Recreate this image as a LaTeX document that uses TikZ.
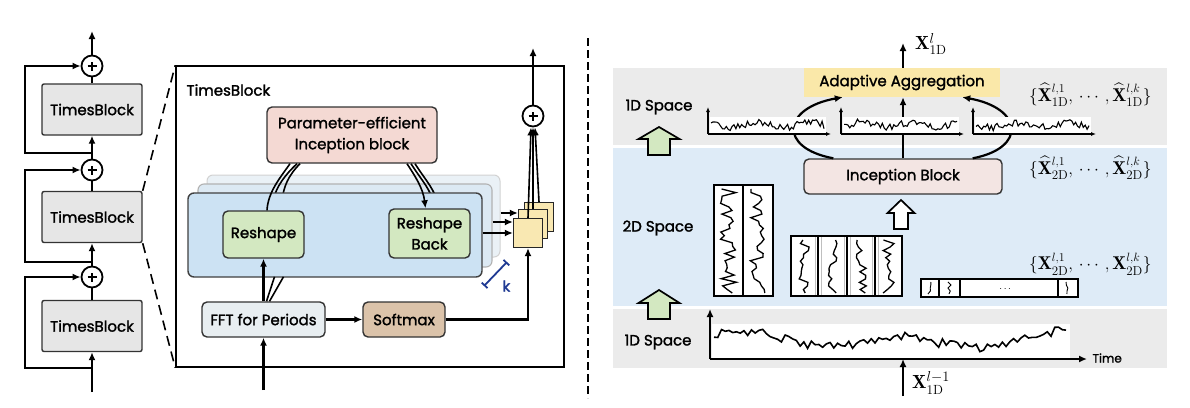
\documentclass[tikz,border=0pt]{standalone}
\usepackage{fontspec}
\usepackage{amsmath}
\usetikzlibrary{arrows.meta,calc}
\newfontfamily\fut[AutoFakeBold=1.6]{Poppins}
\definecolor{tbgray}{HTML}{E6E6E6}
\definecolor{pinkc}{HTML}{F4D9D3}
\definecolor{greenc}{HTML}{D3E8C1}
\definecolor{l1c}{HTML}{CCE2F3}
\definecolor{l2c}{HTML}{DCE9F3}
\definecolor{l3c}{HTML}{EAF1F6}
\definecolor{fftc}{HTML}{E8EEF1}
\definecolor{softc}{HTML}{DBC3AA}
\definecolor{sqc}{HTML}{F9E8B2}
\definecolor{kblue}{HTML}{1F3A93}
\definecolor{bandgray}{HTML}{EBEBEB}
\definecolor{bandblue}{HTML}{DEEBF7}
\definecolor{incc}{HTML}{F3E5E3}
\definecolor{aac}{HTML}{FAE8A9}
\begin{document}
\begin{tikzpicture}[x=1pt,y=-1pt,
  >={Latex[length=8pt,width=7pt]},
  lbl/.style={font=\fut\bfseries\fontsize{15}{21}\selectfont},
  box/.style={draw=black!80, line width=1.4pt, rounded corners=5pt, inner sep=0pt, align=center, lbl},
  tbbox/.style={box, fill=tbgray, rounded corners=2pt, minimum width=100pt, minimum height=51pt},
  plusn/.style={circle, draw, line width=1.8pt, minimum size=21pt, inner sep=0pt, fill=white,
    path picture={\draw[line width=2pt] ([xshift=-4.5pt]path picture bounding box.center) -- ([xshift=4.5pt]path picture bounding box.center);
                  \draw[line width=2pt] ([yshift=-4.5pt]path picture bounding box.center) -- ([yshift=4.5pt]path picture bounding box.center);}},
  conn/.style={line width=2.2pt},
  thinc/.style={line width=1.6pt},
  sqn/.style={draw=black!85, fill=sqc, line width=1.2pt, minimum size=29pt, inner sep=0pt},
  mathl/.style={font=\fontsize{18.5}{20}\selectfont, inner sep=0pt},
  mathb/.style={font=\fontsize{19}{21}\selectfont, inner sep=0pt},
  axis/.style={line width=1.2pt, >={Latex[length=5pt,width=4pt]}},
  ser/.style={line width=1.1pt},
  sq2d/.style={line width=1.3pt}
]
\useasboundingbox (0,0) rectangle (1190,407);
\pgfmathsetseed{4242}

% ================= LEFT COLUMN =================
\node[tbbox] (tb1) at (92,109.5) {TimesBlock};
\node[tbbox] (tb2) at (92,217) {TimesBlock};
\node[tbbox] (tb3) at (92,326) {TimesBlock};
\node[plusn] (p1) at (92,66) {};
\node[plusn] (p2) at (92,170) {};
\node[plusn] (p3) at (92,277) {};
\coordinate (in0) at (92,392);
\coordinate (out0) at (92,31);
\coordinate (s3) at (92,368);
\coordinate (s2) at (92,262);
\coordinate (s1) at (92,153);
\draw[conn,->] (in0) -- (tb3.south);
\draw[conn] (tb3.north) -- (p3.south);
\draw[conn,->] (p3.north) -- (tb2.south);
\draw[conn] (tb2.north) -- (p2.south);
\draw[conn,->] (p2.north) -- (tb1.south);
\draw[conn] (tb1.north) -- (p1.south);
\draw[conn,->] (p1.north) -- (out0);
\draw[conn,->] (s3) -- ++(-67,0) |- (p3.west);
\draw[conn,->] (s2) -- ++(-67,0) |- (p2.west);
\draw[conn,->] (s1) -- ++(-67,0) |- (p1.west);

% ================= TIMESBLOCK DETAIL =================
\node[draw, line width=1.5pt, fill=white, minimum width=388pt, minimum height=301pt, inner sep=0pt] (bb) at (370,216.5) {};
\draw[line width=1.6pt, dash pattern=on 10pt off 6pt] (tb2.north east) -- (bb.north west);
\draw[line width=1.6pt, dash pattern=on 10pt off 6pt] (tb2.south east) -- (bb.south west);
\node[lbl, anchor=west] (tbl) at (183,90) {TimesBlock};

\node[box, fill=pinkc, minimum width=170pt, minimum height=56pt] (pe) at (352,135) {Parameter-efficient\\Inception block};

% back layers
\node[draw=gray!35, fill=l3c, line width=1pt, rounded corners=6pt, minimum width=293pt, minimum height=82pt, inner sep=0pt] (L3) at (353.5,216) {};
\node[draw=gray!60, fill=l2c, line width=1.1pt, rounded corners=6pt, minimum width=294pt, minimum height=83pt, inner sep=0pt] (L2) at (345,225.5) {};
\draw[thinc] ([xshift=59pt]pe.south) .. controls (420,178) and (428,186) .. (433,200);
\draw[thinc] ([xshift=-55pt]pe.south) .. controls (284,176) and (277,186) .. (273,200);
\draw[thinc] ([xshift=63pt]pe.south) .. controls (424,178) and (432,186) .. (437,200);
\draw[thinc] ([xshift=-52pt]pe.south) .. controls (288,176) and (284,186) .. (282,200);
\node[draw=black!75, fill=l1c, line width=1.4pt, rounded corners=6pt, minimum width=294pt, minimum height=84pt, inner sep=0pt] (L1) at (335,235) {};

\node[box, fill=greenc, minimum width=81pt, minimum height=47pt] (rs) at (263.5,234.5) {Reshape};
\node[box, fill=greenc, minimum width=81pt, minimum height=49pt] (rb) at (429.5,233.5) {Reshape\\Back};
\draw[thinc] ([xshift=-62pt]pe.south) .. controls (280,178) and (268,192) .. ([xshift=3.5pt]rs.north);
\draw[thinc,->] ([xshift=55pt]pe.south) .. controls (415,176) and (423,188) .. ([xshift=-4pt]rb.north);

\node[box, fill=fftc, minimum width=123pt, minimum height=35pt] (fft) at (263.5,319.5) {FFT for Periods};
\node[box, fill=softc, minimum width=82pt, minimum height=35pt] (sm) at (404,319.5) {Softmax};
\coordinate (in1) at (263.5,390);
\draw[conn,->] (in1) -- (fft.south);
\draw[conn,->] (fft.north) -- (rs.south);
\draw[thinc] ([xshift=3pt]fft.north) -- ++(8,-24.5);
\draw[thinc] ([xshift=6pt]fft.north) -- ++(14,-24.5);
\draw[conn,->] (fft) -- (sm);

% result squares
\node[sqn] (sq3) at (539,217) {};
\node[sqn] (sq2) at (533,224) {};
\node[sqn] (sq1) at (528,233) {};
\coordinate (a3) at ([yshift=3pt]L3.east);
\coordinate (a2) at ([yshift=3.5pt]L2.east);
\coordinate (a1) at ([yshift=2pt]L1.east);
\draw[thinc,->] (a3) -- (a3 -| sq2.west);
\draw[thinc,->] (a2) -- (a2 -| sq1.west);
\draw[thinc,->] (a1) -- (a1 -| sq1.west);
\draw[conn,->] (sm.east) -| (sq1.south);

\node[plusn] (pc) at (533,116) {};
\draw[thinc,->] (sq1.north) -- ([xshift=-2pt]pc.south);
\draw[thinc,->] (sq2.north) -- (pc.south);
\draw[thinc,->] (sq3.north) -- ([xshift=2pt]pc.south);
\coordinate (out1) at (533,48);
\draw[conn,->] (pc.north) -- (out1);

% k marker
\coordinate (k1) at (484,286);
\coordinate (k2) at (507,262);
\draw[kblue, line width=1.8pt, {Bar[width=8pt]}-{Bar[width=8pt]}] (k1) -- (k2);
\node[lbl, text=kblue, anchor=west] (kl) at (499,286) {k};

% separator
\draw[line width=1.8pt, dash pattern=on 8pt off 4pt] (588,38) -- (588,398);

% ================= RIGHT SIDE =================
\fill[bandgray] (613,68) rectangle (1167,145);
\fill[bandblue] (613,148) rectangle (1167,306);
\fill[bandgray] (613,309) rectangle (1167,368);

\node[lbl] (s1d) at (659,107) {1D Space};
\node[lbl] (s2d) at (658,228) {2D Space};
\node[lbl] (s1b) at (658,342) {1D Space};

% green block arrows
\draw[fill=greenc, line width=1.7pt] (659,127) -- (679.5,139) -- (670,139) -- (670,155) -- (648,155) -- (648,139) -- (638.5,139) -- cycle;
\draw[fill=greenc, line width=1.7pt] (659,290) -- (679.5,303) -- (670,303) -- (670,319) -- (648,319) -- (648,303) -- (638.5,303) -- cycle;

% Inception / aggregation
\node[box, fill=incc, minimum width=198pt, minimum height=35pt] (ib) at (903,176.5) {Inception Block};
\node[lbl, fill=aac, minimum width=196pt, minimum height=29pt, inner sep=0pt] (aa) at (902,82.5) {Adaptive Aggregation};
\draw[conn,->] ([xshift=30pt]ib.north west) .. controls (778,148) and (782,108) .. ([xshift=39pt]aa.south west);
\draw[conn,->] ([xshift=-30pt]ib.north east) .. controls (1027,148) and (1023,108) .. ([xshift=-38pt]aa.south east);
\draw[conn,->] (ib.north) -- (aa.south -| ib.north);
\coordinate (out2) at (903,43);
\draw[conn,->] (aa.north -| out2) -- (out2);
\node[mathb, anchor=west] (xo) at (915,44) {$\mathbf{X}^{l}_{\mathrm{1D}}$};

% small 1D charts
\foreach \xa/\sd in {708/11,841/23,973/37}{
  \fill[white] (\xa+2,117) rectangle (\xa+118,133);
  \draw[axis,->] (\xa,134) -- (\xa,107);
  \draw[axis,->] (\xa,134) -- (\xa+123,134);
  \pgfmathsetseed{\sd}
  \draw[ser] plot[domain=\xa+3:\xa+116, samples=60] (\x,{125+2.5*sin(\x*7)+3.8*rand});
}

% white hollow arrow
\draw[fill=white, line width=1.7pt] (901,200) -- (914.5,213) -- (908,213) -- (908,229) -- (894,229) -- (894,213) -- (887.5,213) -- cycle;

% 2D matrices
\filldraw[fill=white, line width=2.2pt] (714,185) rectangle (773,296);
\draw[line width=1.8pt] (743,185) -- (743,296);
\draw[sq2d] plot[domain=189:293, samples=30] ({728.5+8*rand},\x);
\draw[sq2d] plot[domain=189:293, samples=30] ({758+8*rand},\x);

\filldraw[fill=white, line width=2.2pt] (791,236) rectangle (902,296);
\foreach \d in {818,847,875}{\draw[line width=1.8pt] (\d,236) -- (\d,296);}
\foreach \d in {815,821,844,850,872,878}{\draw[gray!50, line width=0.6pt] (\d,237) -- (\d,295);}
\foreach \c in {804.5,832.5,861,888.5}{
  \draw[sq2d] plot[domain=240:293, samples=16] ({\c+5.5*rand},\x);
}

\filldraw[fill=white, line width=2pt] (921,279) rectangle (1078,297);
\foreach \d in {939,960,1058}{\draw[line width=1.6pt] (\d,279) -- (\d,297);}
\foreach \c in {930,949.5,1068}{
  \draw[line width=0.9pt] plot[domain=282:294, samples=5] ({\c+2.5*rand},\x);
}
\node[font=\bfseries] (dots) at (1006,289) {$\cdots$};

% math labels
\node[mathl, anchor=west] (h1) at (1029,95) {$\{\widehat{\mathbf{X}}^{l,1}_{\mathrm{1D}},\,\cdots,\widehat{\mathbf{X}}^{l,k}_{\mathrm{1D}}\}$};
\node[mathl, anchor=west] (h2) at (1029,168) {$\{\widehat{\mathbf{X}}^{l,1}_{\mathrm{2D}},\,\cdots,\widehat{\mathbf{X}}^{l,k}_{\mathrm{2D}}\}$};
\node[mathl, anchor=west] (h3) at (1029,264) {$\{\mathbf{X}^{l,1}_{\mathrm{2D}},\,\cdots,\mathbf{X}^{l,k}_{\mathrm{2D}}\}$};

% bottom 1D chart
\fill[white] (712,324) rectangle (1070,358);
\coordinate (o) at (710,359);
\draw[line width=1.6pt,->] (o) -- (710,309);
\draw[line width=1.6pt,->] (o) -- (1087,359);
\node[font=\fut\bfseries\fontsize{12}{14}\selectfont, anchor=west] (time) at (1089,358) {Time};
\pgfmathsetseed{777}
\draw[line width=1.6pt] plot[domain=714:1066, samples=95] (\x,{340+6*sin(\x*2.3)+3*sin(\x*0.9)+5*rand});
\coordinate (in2) at (903,396);
\draw[conn,->] (in2) -- (in2 |- o);
\node[mathb, anchor=west] (xi) at (912,383) {$\mathbf{X}^{l-1}_{\mathrm{1D}}$};
\end{tikzpicture}
\end{document}
